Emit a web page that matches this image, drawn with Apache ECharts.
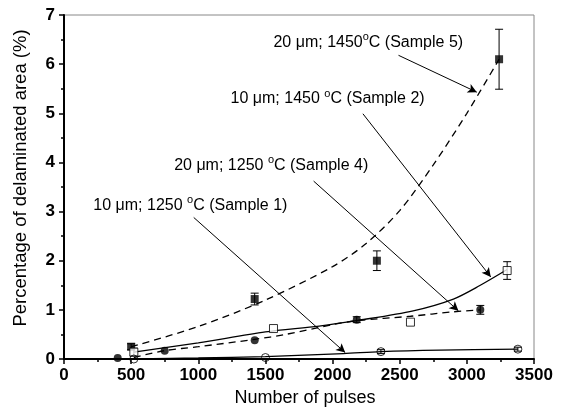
<!DOCTYPE html>
<html>
<head>
<meta charset="utf-8">
<script src="https://cdn.jsdelivr.net/npm/echarts@6/dist/echarts.min.js"></script>
<style>
  html, body { margin: 0; padding: 0; background: #fff; }
  #chart { width: 562px; height: 412px; }
</style>
</head>
<body>
<div id="chart"></div>
<script>
// measured points (x = number of pulses, y = % delaminated area)
const s5X = [500, 1420, 2330, 3240];
const s5Y = [0.25, 1.22, 2.0, 6.1];
const s5Err = [0.06, 0.12, 0.2, 0.61];

const s2X = [520, 1560, 2580, 3300];
const s2Y = [0.14, 0.62, 0.75, 1.8];
const s2Err = [0.08, 0, 0, 0.18];

const s4X = [400, 750, 1420, 2180, 3100];
const s4Y = [0.02, 0.17, 0.38, 0.8, 1.0];
const s4Err = [0, 0, 0, 0.06, 0.09];

const s1X = [520, 1500, 2360, 3380];
const s1Y = [0.0, 0.03, 0.15, 0.2];
const s1Err = [0, 0, 0.04, 0.04];

// fitted curves
const fit5X = [500, 1000, 1500, 2000, 2250, 2500, 2750, 3000, 3240];
const fit5Y = [0.25, 0.66, 1.2, 1.88, 2.35, 3.02, 3.95, 5.0, 6.1];
const fit2X = [520, 1000, 1500, 1900, 2200, 2600, 2900, 3100, 3300];
const fit2Y = [0.14, 0.33, 0.55, 0.67, 0.79, 0.98, 1.22, 1.5, 1.82];
const fit4X = [520, 750, 1000, 1420, 1650, 2000, 2180, 2580, 2900, 3100];
const fit4Y = [0.03, 0.17, 0.25, 0.4, 0.5, 0.7, 0.78, 0.87, 0.96, 1.0];
const fit1X = [520, 1000, 1500, 2080, 2360, 2800, 3380];
const fit1Y = [0.0, 0.02, 0.05, 0.11, 0.15, 0.18, 0.2];

// annotations
const annoText = [
    "20 μm; 1450{s|o}C (Sample 5)",
    "10 μm; 1450 {s|o}C (Sample 2)",
    "20 μm; 1250 {s|o}C (Sample 4)",
    "10 μm; 1250 {s|o}C (Sample 1)",
];
const annoPos = [[2266, 6.44], [1963, 5.29], [1543, 3.94], [941, 3.13]];
const arrowFrom = [[2491, 6.18], [2226, 4.99], [1859, 3.62], [966, 2.88]];
const arrowTo = [[3074, 5.43], [3178, 1.67], [2937, 0.98], [2094, 0.13]];

const pairs = (xs, ys) => xs.map((x, i) => [x, ys[i]]);

function errorSeries(xs, ys, errs) {
    const data = [];
    xs.forEach((x, i) => {
        if (errs[i] > 0) data.push([x, ys[i] - errs[i], ys[i] + errs[i]]);
    });
    return {
        type: "custom",
        data: data,
        z: 3,
        encode: {x: 0, y: [1, 2]},
        renderItem: (params, api) => {
            const lo = api.coord([api.value(0), api.value(1)]);
            const hi = api.coord([api.value(0), api.value(2)]);
            const w = 4;
            const style = {stroke: "#000", lineWidth: 1, fill: null};
            return {
                type: "group",
                children: [
                    {type: "line", shape: {x1: lo[0], y1: lo[1], x2: hi[0], y2: hi[1]}, style: style},
                    {type: "line", shape: {x1: lo[0] - w, y1: lo[1], x2: lo[0] + w, y2: lo[1]}, style: style},
                    {type: "line", shape: {x1: hi[0] - w, y1: hi[1], x2: hi[0] + w, y2: hi[1]}, style: style},
                ],
            };
        },
    };
}

function fitSeries(xs, ys, dashed) {
    return {
        type: "line",
        data: pairs(xs, ys),
        smooth: 0.3,
        showSymbol: false,
        z: 2,
        lineStyle: {color: "#000", width: 1.3, type: dashed ? [7, 5] : "solid"},
    };
}

function markerSeries(xs, ys, symbol, filled, fill) {
    return {
        type: "scatter",
        data: pairs(xs, ys),
        symbol: symbol,
        symbolSize: 8,
        z: 4,
        itemStyle: filled
            ? {color: "#000"}
            : {color: fill, borderColor: "#000", borderWidth: 1},
    };
}

const labelFont = "Liberation Sans, Arial, sans-serif";

const annoSeries = {
    type: "line",
    data: [],
    z: 5,
    markLine: {
        silent: true,
        symbol: ["none", "arrow"],
        symbolSize: [7, 9],
        lineStyle: {color: "#000", width: 1, type: "solid"},
        label: {show: false},
        data: arrowFrom.map((p, i) => [{coord: p}, {coord: arrowTo[i]}]),
    },
    markPoint: {
        silent: true,
        symbol: "circle",
        symbolSize: 1,
        itemStyle: {color: "rgba(0,0,0,0)"},
        label: {
            show: true,
            position: "inside",
            color: "#000",
            fontFamily: labelFont,
            fontSize: 16,
            lineHeight: 22,
            rich: {
                s: {fontSize: 11, lineHeight: 22, verticalAlign: "top", fontFamily: labelFont, color: "#000"},
            },
        },
        data: annoPos.map((p, i) => ({coord: p, value: annoText[i], label: {formatter: annoText[i]}})),
    },
};

const option = {
    animation: false,
    backgroundColor: "#fff",
    grid: {left: 64, right: 28, top: 15, bottom: 49, show: true, borderColor: "#888", borderWidth: 1},
    xAxis: {
        type: "value",
        min: 0,
        max: 3500,
        interval: 500,
        name: "Number of pulses",
        nameLocation: "middle",
        nameGap: 30,
        nameTextStyle: {fontFamily: labelFont, fontSize: 18, color: "#000", padding: [0, 0, 0, 12]},
        axisLine: {lineStyle: {color: "#000", width: 2}},
        axisTick: {length: 5, lineStyle: {color: "#000", width: 1.5}},
        minorTick: {show: true, splitNumber: 2, length: 3, lineStyle: {color: "#000", width: 1.5}},
        splitLine: {show: false},
        axisLabel: {
            fontFamily: labelFont, fontSize: 17, fontWeight: "bold", color: "#000", margin: 8,
            formatter: (v) => String(v),
        },
    },
    yAxis: {
        type: "value",
        min: 0,
        max: 7,
        interval: 1,
        name: "Percentage of delaminated area (%)",
        nameLocation: "middle",
        nameGap: 34,
        nameTextStyle: {fontFamily: labelFont, fontSize: 18.5, color: "#000", padding: [0, 0, 0, 18]},
        axisLine: {lineStyle: {color: "#000", width: 2}},
        axisTick: {length: 5, lineStyle: {color: "#000", width: 1.5}},
        minorTick: {show: true, splitNumber: 2, length: 3, lineStyle: {color: "#000", width: 1.5}},
        splitLine: {show: false},
        axisLabel: {fontFamily: labelFont, fontSize: 17, fontWeight: "bold", color: "#000", margin: 9},
    },
    series: [
        fitSeries(fit5X, fit5Y, true),
        fitSeries(fit2X, fit2Y, false),
        fitSeries(fit4X, fit4Y, true),
        fitSeries(fit1X, fit1Y, false),
        errorSeries(s5X, s5Y, s5Err),
        errorSeries(s2X, s2Y, s2Err),
        errorSeries(s4X, s4Y, s4Err),
        errorSeries(s1X, s1Y, s1Err),
        markerSeries(s5X, s5Y, "rect", true),
        markerSeries(s2X, s2Y, "rect", false, "#fff"),
        markerSeries(s4X, s4Y, "circle", true),
        markerSeries(s1X, s1Y, "circle", false, "rgba(0,0,0,0)"),
        annoSeries,
    ],
};

const myChart = echarts.init(document.getElementById("chart"), null, {renderer: "canvas"});
myChart.setOption(option);
</script>
</body>
</html>
